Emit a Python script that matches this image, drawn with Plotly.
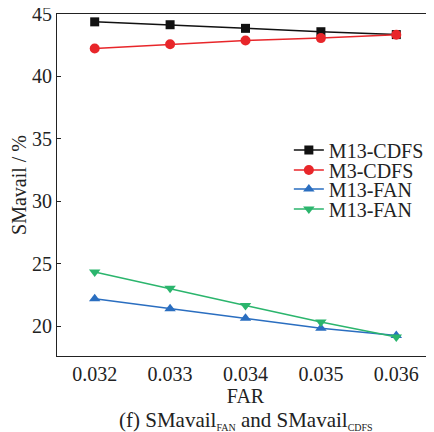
import plotly.graph_objects as go

far = [0.032, 0.033, 0.034, 0.035, 0.036]
m13_cdfs = [44.37, 44.14, 43.85, 43.58, 43.35]
m3_cdfs = [42.23, 42.58, 42.88, 43.07, 43.34]
m13_fan_a = [22.19, 21.39, 20.62, 19.82, 19.25]
m13_fan_b = [24.33, 23.02, 21.65, 20.32, 19.12]
x_ticks = [0.032, 0.033, 0.034, 0.035, 0.036]
x_tick_labels = ["0.032", "0.033", "0.034", "0.035", "0.036"]
y_ticks = [20, 25, 30, 35, 40, 45]

FONT = "Liberation Serif, Times New Roman, serif"

fig = go.Figure()
series = [
    ("M13-CDFS", m13_cdfs, "#111111", "square", 9, "legend"),
    ("M3-CDFS", m3_cdfs, "#e8262a", "circle", 10, "legend2"),
    ("M13-FAN", m13_fan_a, "#2a6ec0", "triangle-up", 10, "legend3"),
    ("M13-FAN", m13_fan_b, "#2bb56d", "triangle-down", 10, "legend4"),
]
for name, ys, col, sym, sz, lg in series:
    fig.add_trace(go.Scatter(
        x=far, y=ys, name=name, mode="lines+markers",
        line=dict(color=col, width=1.5),
        marker=dict(symbol=sym, size=sz, color=col),
        legend=lg,
    ))

leg_common = dict(x=0.615, xanchor="left", yanchor="middle",
                  bgcolor="rgba(0,0,0,0)", font=dict(size=20, family=FONT),
                  borderwidth=0)
leg_y = [0.602, 0.544, 0.488, 0.430]

# page body has an 8px default margin; figure sized/offset to compensate
fig.update_layout(
    width=426, height=424,
    margin=dict(l=49, r=0, t=6, b=76),
    paper_bgcolor="white", plot_bgcolor="white",
    font=dict(family=FONT, size=20, color="#222222"),
    showlegend=True,
    legend=dict(y=leg_y[0], **leg_common),
    legend2=dict(y=leg_y[1], **leg_common),
    legend3=dict(y=leg_y[2], **leg_common),
    legend4=dict(y=leg_y[3], **leg_common),
    xaxis=dict(range=[0.0315, 0.0365], tickvals=x_ticks, ticktext=x_tick_labels,
               showgrid=False, zeroline=False, showline=True, linecolor="#222222",
               linewidth=1.2, mirror=True, ticks="", automargin=False,
               ticklabeloverflow="allow",
               title=dict(text="FAR", standoff=2, font=dict(size=20))),
    yaxis=dict(range=[17.6, 45], tickvals=y_ticks, showgrid=False, zeroline=False,
               showline=True, linecolor="#222222", linewidth=1.2,
               ticks="inside", ticklen=4, tickcolor="#222222", automargin=False,
               ticklabeloverflow="allow",
               title=dict(text="SMavail / %", standoff=0, font=dict(size=20))),
    annotations=[dict(
        text="(f) SMavail<sub><span style='font-size:10px'>FAN</span></sub> and SMavail<sub><span style='font-size:10px'>CDFS</span></sub>",
        xref="paper", yref="paper", x=0.5, y=-0.19, xanchor="center", yanchor="middle",
        showarrow=False, font=dict(size=21))],
)

fig.write_html("out.html")
